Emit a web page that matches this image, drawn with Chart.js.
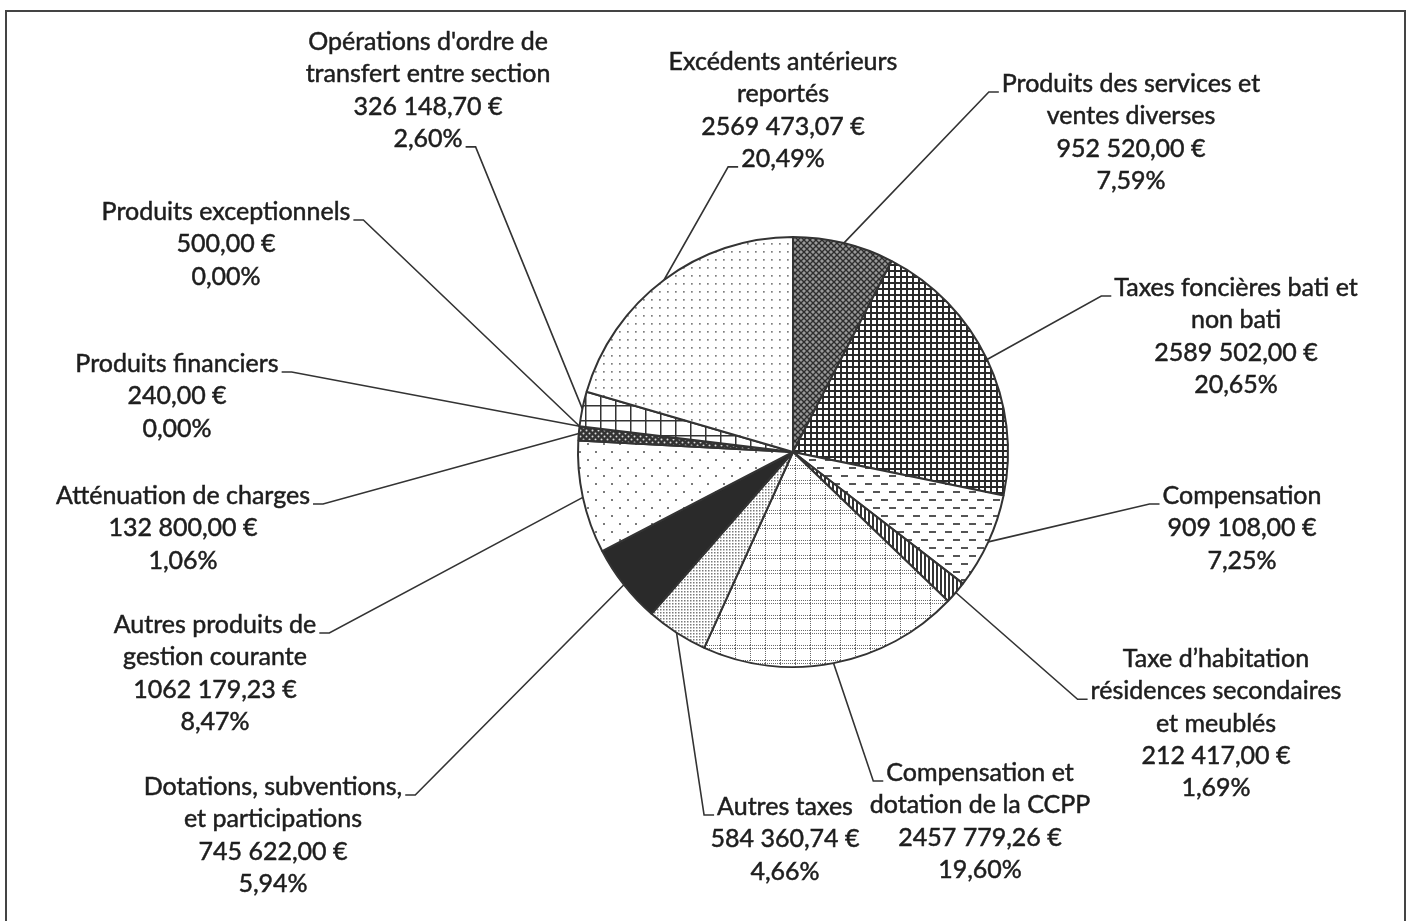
<!DOCTYPE html>
<html>
<head>
<meta charset="utf-8">
<script src="https://cdn.jsdelivr.net/npm/chart.js@4.4.0/dist/chart.umd.min.js"></script>
<style>
html, body { margin: 0; padding: 0; background: #fff; }
canvas { display: block; }
</style>
</head>
<body>
<canvas id="myChart" width="1407" height="921"></canvas>
<script>
// data, clockwise from 12 o'clock
var categories = [
    'Produits des services et\nventes diverses',
    'Taxes foncières bati et\nnon bati',
    'Compensation',
    'Taxe d\u2019habitation\nrésidences secondaires\net meublés',
    'Compensation et\ndotation de la CCPP',
    'Autres taxes',
    'Dotations, subventions,\net participations',
    'Autres produits de\ngestion courante',
    'Atténuation de charges',
    'Produits financiers',
    'Produits exceptionnels',
    'Opérations d\'ordre de\ntransfert entre section',
    'Excédents antérieurs\nreportés'
];
var amounts = [952520.00, 2589502.00, 909108.00, 212417.00, 2457779.26, 584360.74,
    745622.00, 1062179.23, 132800.00, 240.00, 500.00, 326148.70, 2569473.07];

// label placement: [centre x, first line y, line carrying the leader, side of the leader]
var labelPos = [
    [1131, 84, 0, 'L'],
    [1236, 288, 0, 'L'],
    [1242, 496, 0, 'L'],
    [1216, 659, 1, 'L'],
    [980, 773, 0, 'L'],
    [785, 807, 0, 'L'],
    [273, 787, 0, 'R'],
    [215, 625, 0, 'R'],
    [183, 496, 0, 'R'],
    [177, 364, 0, 'R'],
    [226, 212, 0, 'R'],
    [428, 42, 3, 'R'],
    [783, 62, 3, 'L']
];

var canvas = document.getElementById('myChart');
var ctx = canvas.getContext('2d');

function makePattern(size, bg, draw) {
    var c = document.createElement('canvas');
    c.width = size;
    c.height = size;
    var g = c.getContext('2d');
    g.fillStyle = bg;
    g.fillRect(0, 0, size, size);
    draw(g, size);
    return ctx.createPattern(c, 'repeat');
}

function dot(g, x, y, r) {
    g.beginPath();
    g.arc(x, y, r, 0, Math.PI * 2);
    g.fill();
}

var fills = [
    // services: dark diagonal cross hatch
    makePattern(6, '#999', function (g) {
        g.strokeStyle = '#2e2e2e';
        g.lineWidth = 1.4;
        g.beginPath();
        g.moveTo(-1, -1); g.lineTo(7, 7);
        g.moveTo(-1, 7); g.lineTo(7, -1);
        g.stroke();
    }),
    // taxes foncieres: small square grid
    makePattern(6, '#fff', function (g) {
        g.fillStyle = '#2a2a2a';
        g.fillRect(0, 0, 6, 2);
        g.fillRect(0, 0, 2, 6);
    }),
    // compensation: dashes
    makePattern(16, '#fff', function (g) {
        g.fillStyle = '#555';
        g.fillRect(1, 3, 7, 2);
        g.fillRect(9, 11, 7, 2);
    }),
    // taxe d'habitation: vertical lines
    makePattern(4, '#fff', function (g) {
        g.fillStyle = '#333';
        g.fillRect(0, 0, 2, 4);
    }),
    // ccpp: dotted big grid
    makePattern(15, '#fff', function (g) {
        g.fillStyle = '#6a6a6a';
        for (var i = 0; i < 15; i += 2) {
            g.fillRect(i, 0, 1, 1);
            g.fillRect(0, i, 1, 1);
            g.fillRect(i, 3, 1, 1);
        }
    }),
    // autres taxes: fine dots
    makePattern(3, '#fff', function (g) {
        g.fillStyle = '#7a7a7a';
        g.fillRect(0, 0, 1.5, 1.5);
    }),
    '#2a2a2a',
    // autres produits de gestion courante: sparse dots
    makePattern(16, '#fff', function (g) {
        g.fillStyle = '#7a7a7a';
        g.fillRect(3, 3, 2, 2);
        g.fillRect(11, 11, 2, 2);
    }),
    // attenuation: dark with light dots
    makePattern(6, '#333', function (g) {
        g.fillStyle = '#ddd';
        dot(g, 1.5, 1.5, 1);
        dot(g, 4.5, 4.5, 1);
    }),
    '#888',
    '#888',
    // operations d'ordre: large grid
    makePattern(15, '#fff', function (g) {
        g.fillStyle = '#333';
        g.fillRect(0, 0, 15, 1.5);
        g.fillRect(0, 0, 1.5, 15);
    }),
    // excedents: light dots
    makePattern(8, '#fff', function (g) {
        g.fillStyle = '#7e7e7e';
        g.fillRect(3, 3, 1.7, 1.7);
    })
];

var total = amounts.reduce(function (a, b) { return a + b; }, 0);

function fmtEuro(v) {
    var s = v.toFixed(2).split('.');
    var ent = s[0];
    if (ent.length > 3) ent = ent.slice(0, -3) + ' ' + ent.slice(-3);
    return ent + ',' + s[1] + ' €';
}

function fmtPct(v) {
    return (v * 100).toFixed(2).replace('.', ',') + '%';
}

var framePlugin = {
    id: 'frame',
    beforeDraw: function (chart) {
        var c = chart.ctx;
        c.save();
        c.fillStyle = '#fff';
        c.fillRect(0, 0, chart.width, chart.height);
        c.strokeStyle = '#444';
        c.lineWidth = 2;
        c.strokeRect(6, 11, 1399, 930);
        c.restore();
    }
};

var labelPlugin = {
    id: 'sliceLabels',
    afterDraw: function (chart) {
        var c = chart.ctx;
        var meta = chart.getDatasetMeta(0);
        var lineH = 32.3;
        c.save();
        c.font = '25px Lato';
        c.textAlign = 'center';
        c.textBaseline = 'middle';
        c.fillStyle = '#1e1e1e';
        c.strokeStyle = '#1e1e1e';
        c.lineWidth = 0.5;
        for (var i = 0; i < categories.length; i++) {
            var lines = categories[i].split('\n');
            lines.push(fmtEuro(amounts[i]));
            lines.push(fmtPct(amounts[i] / total));
            var p = labelPos[i];
            for (var j = 0; j < lines.length; j++) {
                c.fillText(lines[j], p[0], p[1] + j * lineH);
                c.strokeText(lines[j], p[0], p[1] + j * lineH);
            }
        }
        c.strokeStyle = '#333';
        c.lineWidth = 1.6;
        for (var k = 0; k < categories.length; k++) {
            var q = labelPos[k];
            var lk = categories[k].split('\n');
            lk.push(fmtEuro(amounts[k]));
            lk.push(fmtPct(amounts[k] / total));
            var w = c.measureText(lk[q[2]]).width;
            var ty = q[1] + q[2] * lineH + 8;
            var x0, x1;
            if (q[3] === 'L') {
                x0 = q[0] - w / 2 - 3;
                x1 = x0 - 10;
            } else {
                x0 = q[0] + w / 2 + 3;
                x1 = x0 + 10;
            }
            var arc = meta.data[k];
            var a = (arc.startAngle + arc.endAngle) / 2;
            var px = arc.x + arc.outerRadius * Math.cos(a);
            var py = arc.y + arc.outerRadius * Math.sin(a);
            c.beginPath();
            c.moveTo(x0, ty);
            c.lineTo(x1, ty);
            c.lineTo(px, py);
            c.stroke();
        }
        c.restore();
    }
};

var myChart = new Chart(ctx, {
    type: 'pie',
    data: {
        labels: categories,
        datasets: [{
            data: amounts,
            backgroundColor: fills,
            borderColor: '#333',
            borderWidth: 2
        }]
    },
    options: {
        responsive: false,
        animation: false,
        layout: {
            padding: { left: 577, right: 398, top: 236, bottom: 253 }
        },
        plugins: {
            legend: { display: false },
            tooltip: { enabled: false }
        }
    },
    plugins: [framePlugin, labelPlugin]
});
</script>
</body>
</html>
